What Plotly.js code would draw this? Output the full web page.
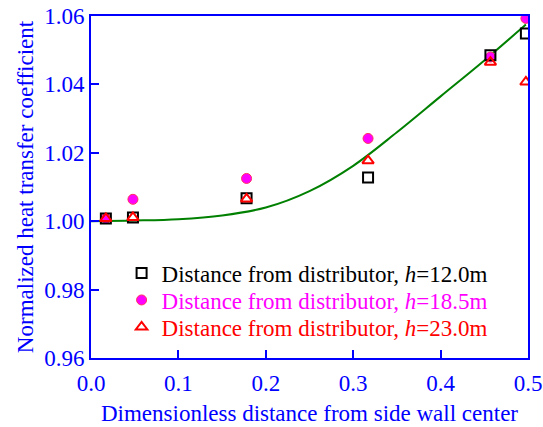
<!DOCTYPE html>
<html>
<head>
<meta charset="utf-8">
<script src="https://cdn.plot.ly/plotly-3.0.1.min.js"></script>
<style>html,body{margin:0;padding:0;background:#fff}#chart{width:543px;height:427px}</style>
</head>
<body>
<div id="chart"></div>
<script>
const xPts = [0.017, 0.048, 0.178, 0.317, 0.457, 0.4976];
const yH12 = [1.0008, 1.0011, 1.0067, 1.0128, 1.0485, 1.0549];
const yH185 = [1.0008, 1.0064, 1.0125, 1.0242, 1.0480, 1.0593];
const yH23 = [1.0008, 1.0011, 1.0065, 1.0177, 1.0465, 1.0407];
const xFit = [0.0, 0.05, 0.1, 0.15, 0.2, 0.25, 0.3, 0.35, 0.4, 0.45, 0.4976];
const yFit = [1.0000, 1.0002, 1.0006, 1.0017, 1.0040, 1.0088, 1.0162, 1.0260, 1.0365, 1.0470, 1.0575];
const xTicks = [0.0, 0.1, 0.2, 0.3, 0.4, 0.5];
const yTicks = [0.96, 0.98, 1.00, 1.02, 1.04, 1.06];
const names = [
  'Distance from distributor, <i>h</i>=12.0m',
  'Distance from distributor, <i>h</i>=18.5m',
  'Distance from distributor, <i>h</i>=23.0m'
];

const traces = [
  {x: xFit, y: yFit, mode: 'lines', line: {color: '#008000', width: 2, shape: 'spline', smoothing: 1}, showlegend: false, hoverinfo: 'skip'},
  {x: xPts, y: yH185, mode: 'markers', name: names[1], legend: 'legend2',
   marker: {symbol: 'circle', size: 10, color: '#ff00ff', line: {color: '#ff3060', width: 1}}},
  {x: xPts, y: yH12, mode: 'markers', name: names[0], legend: 'legend',
   marker: {symbol: 'square-open', size: 10, color: '#000000', line: {width: 2}}},
  {x: xPts, y: yH23, mode: 'markers', name: names[2], legend: 'legend3',
   marker: {symbol: 'triangle-up-open', size: 10, color: '#ff0000', line: {width: 2}}}
];

const axisCommon = {
  showline: true, linecolor: '#0000ff', linewidth: 2, mirror: true,
  ticks: 'inside', ticklen: 8, tickwidth: 2, tickcolor: '#0000ff',
  showgrid: false, zeroline: false, ticklabeloverflow: 'allow',
  tickfont: {family: 'Liberation Serif', size: 23, color: '#0000ff'}
};

function legendAt(y, color) {
  return {
    x: 0.07, y: y, xanchor: 'left', yanchor: 'middle',
    bgcolor: 'rgba(0,0,0,0)', borderwidth: 0,
    font: {family: 'Liberation Serif', size: 23, color: color},
    itemwidth: 30, tracegroupgap: 0
  };
}

const layout = {
  width: 543, height: 427,
  margin: {l: 91, r: 15, t: 16, b: 69},
  paper_bgcolor: '#ffffff', plot_bgcolor: '#ffffff',
  font: {family: 'Liberation Serif', color: '#0000ff'},
  xaxis: Object.assign({}, axisCommon, {
    range: [0, 0.5], tickvals: xTicks, tickformat: '.1f', ticklabelstandoff: 3,
    title: {text: 'Dimensionless distance from side wall center', font: {family: 'Liberation Serif', size: 23, color: '#0000ff'}, standoff: 10}
  }),
  yaxis: Object.assign({}, axisCommon, {
    range: [0.96, 1.06], tickvals: yTicks, tickformat: '.2f',
    title: {text: 'Normalized heat transfer coefficient', font: {family: 'Liberation Serif', size: 23, color: '#0000ff'}, standoff: 4}
  }),
  legend: legendAt(0.2485, '#000000'),
  legend2: legendAt(0.1696, '#ff00ff'),
  legend3: legendAt(0.0906, '#ff0000'),
  showlegend: true
};

Plotly.newPlot('chart', traces, layout, {displayModeBar: false, staticPlot: true});
</script>
</body>
</html>
